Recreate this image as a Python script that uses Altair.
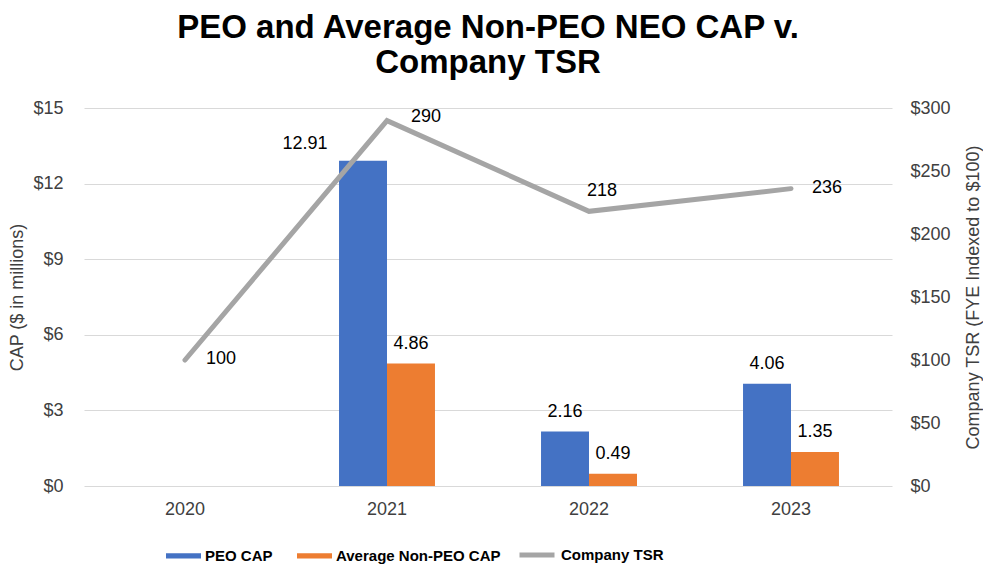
import altair as alt
import pandas as pd

# ---- data ----
years = ["2020", "2021", "2022", "2023"]
peo_cap = [None, 12.91, 2.16, 4.06]
non_peo_cap = [None, 4.86, 0.49, 1.35]
company_tsr = [100, 290, 218, 236]
bar_series = ["PEO CAP", "Average Non-PEO CAP"]
line_series = "Company TSR"
bar_colors = ["#4472C4", "#ED7D31"]
line_color = "#A5A5A5"

rows = []
for yr, a, b in zip(years, peo_cap, non_peo_cap):
    for s, v in zip(bar_series, (a, b)):
        if v is not None:
            rows.append({"year": yr, "series": s, "value": v, "label": f"{v:.2f}"})
bars_df = pd.DataFrame(rows)
line_df = pd.DataFrame({"year": years, "tsr": company_tsr,
                        "series": [line_series] * len(years),
                        "label": [str(v) for v in company_tsr]})

FONT = "Liberation Sans"
TXT = "#404040"

x_enc = alt.X("year:N", sort=years, title=None,
              scale=alt.Scale(paddingInner=0.525, paddingOuter=0.2625),
              axis=alt.Axis(labelAngle=0, labelFontSize=18, labelColor=TXT, labelFont=FONT,
                            labelPadding=14, ticks=False, domain=False, grid=False))
xoff = alt.XOffset("series:N", sort=bar_series, scale=alt.Scale(paddingInner=0, paddingOuter=0))

y_left = alt.Y("value:Q", scale=alt.Scale(domain=[0, 15]),
               axis=alt.Axis(values=[0, 3, 6, 9, 12, 15], format="$d", title="CAP ($ in millions)",
                             labelFontSize=18, labelColor=TXT, labelFont=FONT, labelPadding=21,
                             titleFontSize=18, titleColor=TXT, titleFont=FONT, titleFontWeight="normal",
                             titlePadding=6, ticks=False, domain=False, grid=True,
                             gridColor="#D9D9D9", gridWidth=1.2))
y_right = alt.Y("tsr:Q", scale=alt.Scale(domain=[0, 300]),
                axis=alt.Axis(orient="right", values=[0, 50, 100, 150, 200, 250, 300], format="$d",
                              title="Company TSR (FYE Indexed to $100)", titleAngle=270,
                              titleBaseline="top",
                              labelFontSize=18, labelColor=TXT, labelFont=FONT, labelPadding=18,
                              titleFontSize=18, titleColor=TXT, titleFont=FONT, titleFontWeight="normal",
                              titlePadding=14, ticks=False, domain=False, grid=False))

LEG_Y = 430
bar_legend = alt.Legend(title=None, orient="none", legendX=82, legendY=LEG_Y,
                        direction="horizontal",
                        symbolType="M-1,-0.15H1V0.15H-1Z", symbolSize=1225, symbolStrokeWidth=0,
                        labelFontSize=15, labelFontWeight="bold", labelFont=FONT, labelColor="black",
                        labelLimit=0, columnPadding=24, labelOffset=4)
line_legend = alt.Legend(title=None, orient="none", legendX=433, legendY=LEG_Y - 3,
                         direction="horizontal",
                         symbolType="stroke", symbolSize=1225, symbolStrokeWidth=5,
                         labelFontSize=15, labelFontWeight="bold", labelFont=FONT, labelColor="black",
                         labelLimit=0, labelOffset=4)

bars = alt.Chart(bars_df).mark_bar().encode(
    x=x_enc, xOffset=xoff, y=y_left,
    fill=alt.Fill("series:N", sort=bar_series,
                  scale=alt.Scale(domain=bar_series, range=bar_colors), legend=bar_legend),
)

bar_text = alt.Chart(bars_df).mark_text(
    font=FONT, fontSize=18, color="black", baseline="alphabetic", dy=-15
).encode(x=x_enc, xOffset=xoff, y=y_left, text="label:N").transform_filter("datum.value < 10")
bar_text_big = alt.Chart(bars_df).mark_text(
    font=FONT, fontSize=18, color="black", baseline="alphabetic", dx=-58, dy=-12
).encode(x=x_enc, xOffset=xoff, y=y_left, text="label:N").transform_filter("datum.value >= 10")

left = alt.layer(bars, bar_text, bar_text_big)

line = alt.Chart(line_df).mark_line(strokeWidth=5, strokeCap="round", strokeJoin="miter").encode(
    x=x_enc, y=y_right,
    stroke=alt.Stroke("series:N", scale=alt.Scale(domain=[line_series], range=[line_color]),
                      legend=line_legend),
)
line_text = alt.Chart(line_df).mark_text(
    font=FONT, fontSize=18, color="black", align="left", baseline="middle", dx=21, dy=-1
).encode(x=x_enc, y=y_right, text="label:N").transform_filter("datum.year != '2022' && datum.year != '2021'")
line_text_2021 = alt.Chart(line_df).mark_text(
    font=FONT, fontSize=18, color="black", align="left", baseline="middle", dx=24, dy=-4
).encode(x=x_enc, y=y_right, text="label:N").transform_filter("datum.year == '2021'")
line_text_2022 = alt.Chart(line_df).mark_text(
    font=FONT, fontSize=18, color="black", align="left", baseline="alphabetic", dx=-2, dy=-15
).encode(x=x_enc, y=y_right, text="label:N").transform_filter("datum.year == '2022'")

right = alt.layer(line, line_text, line_text_2021, line_text_2022)

chart = alt.layer(left, right).resolve_scale(
    y="independent", fill="independent", stroke="independent"
).properties(
    width=808, height=378,
    padding={"left": 0, "top": 4, "right": 0, "bottom": 0},
    title=alt.Title(["PEO and Average Non-PEO NEO CAP v.", "Company TSR"],
                    fontSize=33, font=FONT, fontWeight="bold", color="black",
                    anchor="middle", lineHeight=35, offset=19),
).configure_view(stroke=None)

chart.save("out.html", embed_options={"renderer": "svg", "actions": False})
